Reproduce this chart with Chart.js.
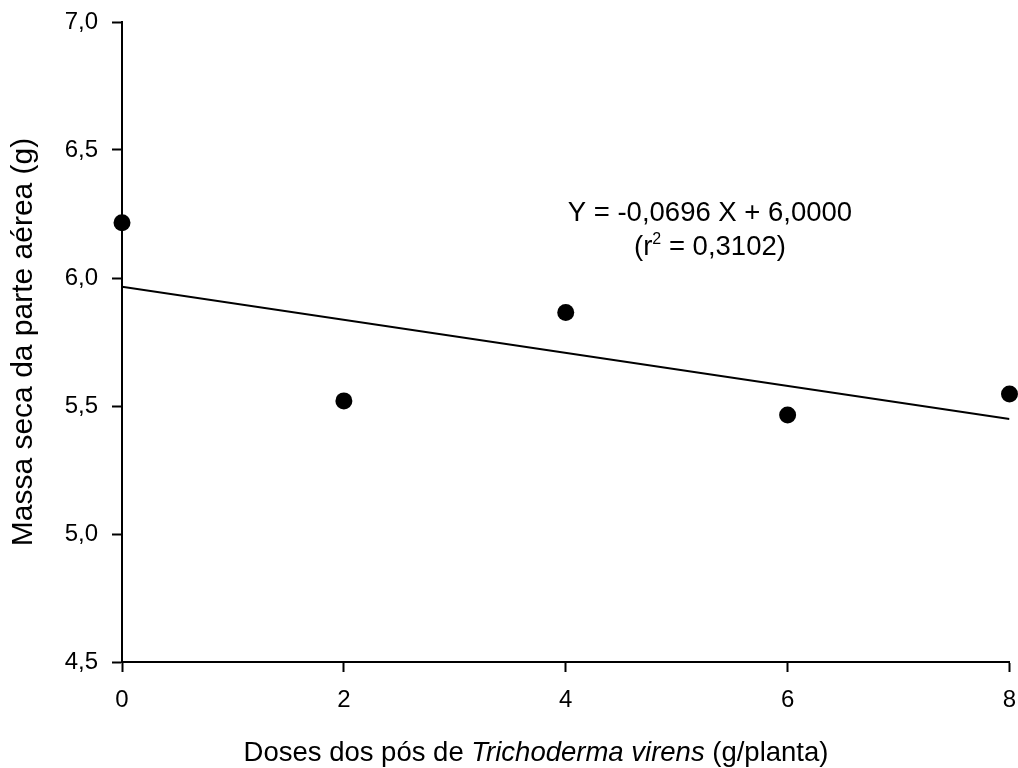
<!DOCTYPE html>
<html>
<head>
<meta charset="utf-8">
<script src="https://cdn.jsdelivr.net/npm/chart.js@4/dist/chart.umd.min.js"></script>
<style>
  html, body { margin: 0; padding: 0; background: #fff; }
  canvas { display: block; }
</style>
</head>
<body>
<canvas id="grafico" width="1018" height="768"></canvas>
<script>
// Datos
const doses = [0, 2, 4, 6, 8];
const massaSeca = [6.216, 5.52, 5.865, 5.465, 5.547];
// recta de regresión tal como está dibujada
const ajusteX = [0, 8];
const ajusteY = [5.966, 5.449];
const ticksY = [4.5, 5.0, 5.5, 6.0, 6.5, 7.0];
const ticksX = [0, 2, 4, 6, 8];

const fuente = '"Liberation Sans", Arial, sans-serif';
const $grafico = document.querySelector("#grafico");

const puntos = doses.map((d, i) => ({ x: d, y: massaSeca[i] }));
const recta = ajusteX.map((d, i) => ({ x: d, y: ajusteY[i] }));

// Ecuación y título del eje X (con parte en cursiva)
const textos = {
  id: 'textos',
  afterDraw(chart) {
    const ctx = chart.ctx;
    const sx = chart.scales.x, sy = chart.scales.y;
    ctx.save();
    ctx.fillStyle = '#000';
    ctx.textBaseline = 'alphabetic';

    // ecuación
    const cx = sx.getPixelForValue(5.3);
    const by = sy.getPixelForValue(6.223);
    ctx.font = '27.5px ' + fuente;
    ctx.textAlign = 'center';
    ctx.fillText('Y = -0,0696 X + 6,0000', cx, by);

    const a = '(r', b = '2', c = ' = 0,3102)';
    ctx.textAlign = 'left';
    const wa = ctx.measureText(a).width;
    const wc = ctx.measureText(c).width;
    ctx.font = '16px ' + fuente;
    const wb = ctx.measureText(b).width;
    const total = wa + wb + wc;
    let x0 = cx - total / 2;
    const by2 = by + 34;
    ctx.font = '27.5px ' + fuente;
    ctx.fillText(a, x0, by2);
    ctx.font = '16px ' + fuente;
    ctx.fillText(b, x0 + wa, by2 - 11);
    ctx.font = '27.5px ' + fuente;
    ctx.fillText(c, x0 + wa + wb, by2);

    // título eje X
    const partes = [
      ['Doses dos pós de ', 'normal'],
      ['Trichoderma virens', 'italic'],
      [' (g/planta)', 'normal']
    ];
    let ancho = 0;
    partes.forEach(p => {
      ctx.font = p[1] + ' 27.5px ' + fuente;
      ancho += ctx.measureText(p[0]).width;
    });
    let x = 536 - ancho / 2;
    partes.forEach(p => {
      ctx.font = p[1] + ' 27.5px ' + fuente;
      ctx.fillText(p[0], x, 761);
      x += ctx.measureText(p[0]).width;
    });
    ctx.restore();
  }
};

new Chart($grafico, {
  type: 'scatter',
  data: {
    datasets: [
      {
        data: puntos,
        backgroundColor: '#000',
        borderWidth: 0,
        pointRadius: 8.5,
        pointHoverRadius: 8.5,
        clip: false
      },
      {
        type: 'line',
        data: recta,
        borderColor: '#000',
        borderWidth: 2,
        pointRadius: 0,
        fill: false
      }
    ]
  },
  options: {
    responsive: false,
    animation: false,
    events: [],
    layout: { padding: { left: 0, right: 8, top: 22, bottom: 0 } },
    plugins: { legend: { display: false }, tooltip: { enabled: false } },
    scales: {
      x: {
        type: 'linear',
        min: 0,
        max: 8,
        afterBuildTicks: s => { s.ticks = ticksX.map(v => ({ value: v })); },
        afterFit: s => { s.height = 106; s.paddingLeft = 0; s.paddingRight = 0; },
        grid: { display: true, drawOnChartArea: false, drawTicks: true, tickLength: 10, tickWidth: 2, tickColor: '#000' },
        border: { display: true, color: '#000', width: 2 },
        ticks: { color: '#000', padding: 14, font: { family: fuente, size: 24 }, maxRotation: 0 }
      },
      y: {
        min: 4.5,
        max: 7.0,
        afterBuildTicks: s => { s.ticks = ticksY.map(v => ({ value: v })); },
        afterFit: s => { s.width = 122; s.paddingTop = 0; s.paddingBottom = 0; },
        grid: { display: true, drawOnChartArea: false, drawTicks: true, tickLength: 10, tickWidth: 2, tickColor: '#000' },
        border: { display: true, color: '#000', width: 2 },
        ticks: {
          color: '#000', padding: 14, font: { family: fuente, size: 24 },
          callback: v => v.toFixed(1).replace('.', ',')
        },
        title: {
          display: true,
          text: 'Massa seca da parte aérea (g)',
          color: '#000',
          font: { family: fuente, size: 30 },
          padding: { top: 6, bottom: 0 }
        }
      }
    }
  },
  plugins: [textos]
});
</script>
</body>
</html>
